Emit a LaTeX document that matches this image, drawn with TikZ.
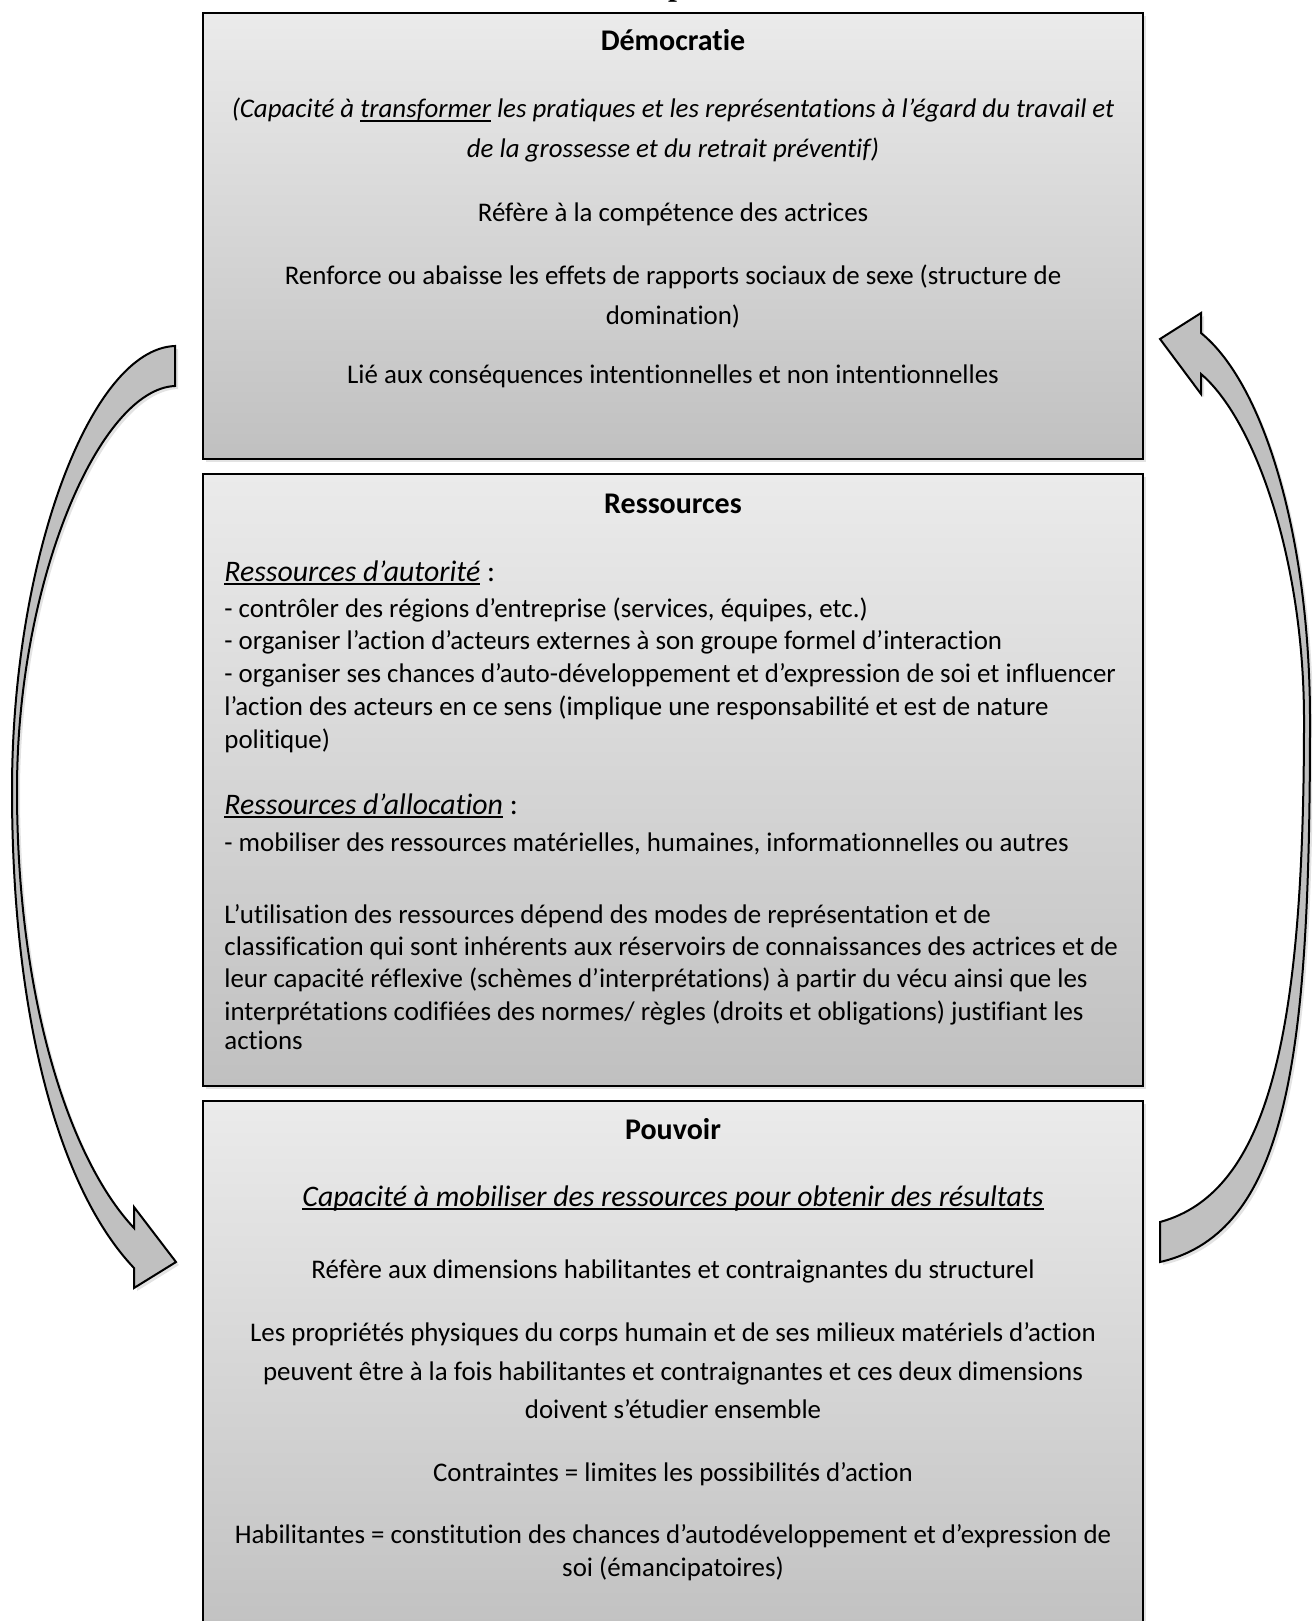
\documentclass[tikz,border=0pt]{standalone}
\usepackage{fontspec}
\setmainfont{Carlito}[Ligatures={NoCommon,NoRare,NoContextual}]
\newfontfamily\titleserif{Liberation Serif}
\usetikzlibrary{shadows}
\definecolor{boxtop}{HTML}{EBEBEB}
\definecolor{boxbot}{HTML}{C0C0C0}
\definecolor{arrowgray}{HTML}{C0C0C0}
\newcommand\myul[1]{\setbox0\hbox{#1}\rlap{\rule[-0.14em]{\wd0}{0.065em}}\box0\relax}
\begin{document}
\begin{tikzpicture}[x=0.5pt,y=-0.5pt,
  panel/.style={draw=black, line width=1.4pt, top color=boxtop, bottom color=boxbot,
    minimum width=470pt, inner sep=0pt, outer sep=0pt,
    drop shadow={opacity=0.22, shadow xshift=1.5pt, shadow yshift=-1.5pt}},
  bigarrow/.style={draw=black, line width=1pt, fill=arrowgray, line join=miter,
    drop shadow={opacity=0.22, shadow xshift=1.5pt, shadow yshift=-1.5pt}},
  body/.style={inner sep=0pt, anchor=base, font=\fontsize{13.45}{16}\selectfont},
  lft/.style={body, anchor=base west},
  ttl/.style={body, font=\fontsize{15}{18}\selectfont\bfseries},
  bigit/.style={body, font=\fontsize{14.9}{18}\selectfont\itshape},
  bigitl/.style={bigit, anchor=base west},
  bodyit/.style={body, font=\fontsize{13.45}{16}\selectfont\itshape}
]
\useasboundingbox (0,0) rectangle (1312,1621);
\clip (0,0) rectangle (1312,1621);

% cut-off heading above the picture
\node[inner sep=0pt, anchor=base, font=\titleserif\bfseries\fontsize{16}{18}\selectfont] (cuttitle) at (677,-4) {p};

% panels
\node[panel, minimum height=223pt] (democratie) at (673,236) {};
\node[panel, minimum height=306pt] (ressources) at (673,780) {};
\node[panel, minimum height=274.5pt] (pouvoir) at (673,1375.5) {};

% left curved arrow (Democratie -> Pouvoir)
\draw[bigarrow] (175,346) -- (175,386)
  .. controls (100,389) and (17,580) .. (17,790)
  .. controls (17,1000) and (70,1160) .. (134,1228)
  -- (134,1207) -- (176,1262) -- (134,1288) -- (134,1268)
  .. controls (60,1190) and (12,1020) .. (12,790)
  .. controls (12,560) and (90,349) .. (175,346) -- cycle;

% right curved arrow (Pouvoir -> Democratie)
\draw[bigarrow] (1160,1262) -- (1160,1222)
  .. controls (1270,1192) and (1304,1030) .. (1304,720)
  .. controls (1304,560) and (1255,420) .. (1201,374)
  -- (1201,394) -- (1160,339) -- (1201,313) -- (1201,333)
  .. controls (1265,385) and (1310,540) .. (1310,720)
  .. controls (1310,1050) and (1290,1232) .. (1160,1262) -- cycle;

% Democratie texts
\node[ttl] (t1) at (673,51) {Démocratie};
\node[bodyit] (d1) at (673,118) {(Capacité à \myul{transformer} les pratiques et les représentations à l’égard du travail et};
\node[bodyit] (d2) at (673,158) {de la grossesse et du retrait préventif)};
\node[body] (d3) at (673,222) {Réfère à la compétence des actrices};
\node[body] (d4) at (673,285) {Renforce ou abaisse les effets de rapports sociaux de sexe (structure de};
\node[body] (d5) at (673,324) {domination)};
\node[body] (d6) at (673,383) {Lié aux conséquences intentionnelles et non intentionnelles};

% Ressources texts
\node[ttl] (t2) at (673,513) {Ressources};
\node[bigitl] (r0) at (224,581) {\myul{Ressources d’autorité}\textup{ :}};
\node[lft] (r1) at (224,617) {- contrôler des régions d’entreprise (services, équipes, etc.)};
\node[lft] (r2) at (224,649) {- organiser l’action d’acteurs externes à son groupe formel d’interaction};
\node[lft] (r3) at (224,682) {- organiser ses chances d’auto-développement et d’expression de soi et influencer};
\node[lft] (r4) at (224,715) {l’action des acteurs en ce sens (implique une responsabilité et est de nature};
\node[lft] (r5) at (224,748) {politique)};
\node[bigitl] (r6) at (224,814) {\myul{Ressources d’allocation}\textup{ :}};
\node[lft] (r7) at (224,851) {- mobiliser des ressources matérielles, humaines, informationnelles ou autres};
\node[lft] (r8) at (224,923) {L’utilisation des ressources dépend des modes de représentation et de};
\node[lft] (r9) at (224,955) {classification qui sont inhérents aux réservoirs de connaissances des actrices et de};
\node[lft] (r10) at (224,987) {leur capacité réflexive (schèmes d’interprétations) à partir du vécu ainsi que les};
\node[lft] (r11) at (224,1020) {interprétations codifiées des normes/ règles (droits et obligations) justifiant les};
\node[lft] (r12) at (224,1049) {actions};

% Pouvoir texts
\node[ttl] (t3) at (673,1139) {Pouvoir};
\node[bigit] (p1) at (673,1206) {\myul{Capacité à mobiliser des ressources pour obtenir des résultats}};
\node[body] (p2) at (673,1278) {Réfère aux dimensions habilitantes et contraignantes du structurel};
\node[body] (p3) at (673,1341) {Les propriétés physiques du corps humain et de ses milieux matériels d’action};
\node[body] (p4) at (673,1380) {peuvent être à la fois habilitantes et contraignantes et ces deux dimensions};
\node[body] (p5) at (673,1418) {doivent s’étudier ensemble};
\node[body] (p6) at (673,1481) {Contraintes = limites les possibilités d’action};
\node[body] (p7) at (673,1543) {Habilitantes = constitution des chances d’autodéveloppement et d’expression de};
\node[body] (p8) at (673,1576) {soi (émancipatoires)};
\end{tikzpicture}
\end{document}
